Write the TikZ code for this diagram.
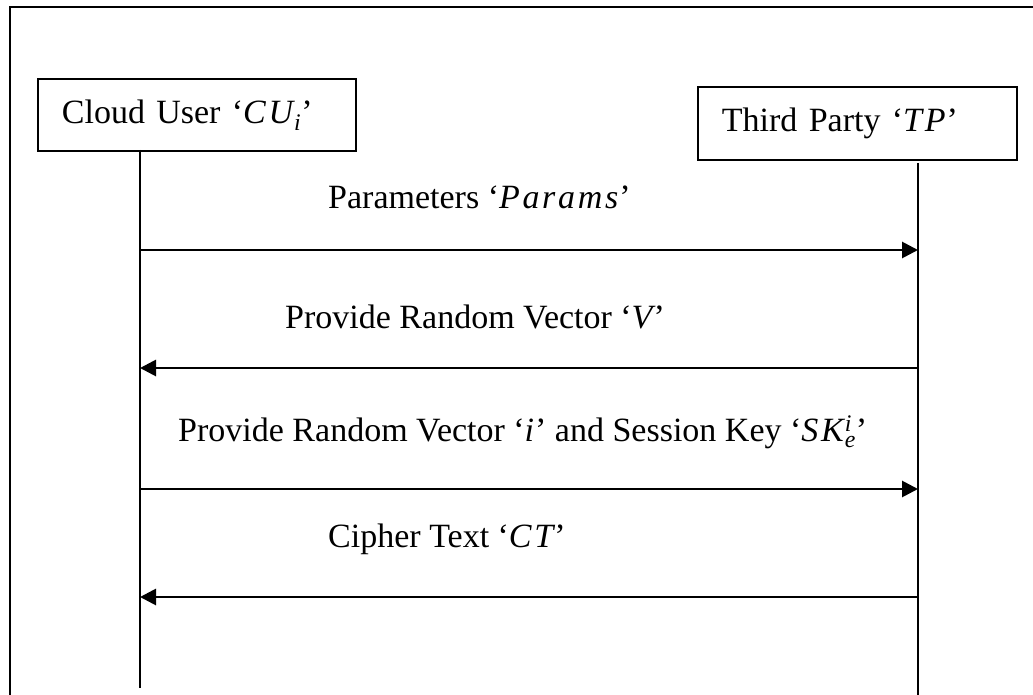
\documentclass[tikz,border=0pt]{standalone}
\usepackage{fontspec}
\usepackage{amsmath}
\setmainfont{Liberation Serif}
\usetikzlibrary{arrows.meta}
\newcommand{\mi}[1]{{\itshape\addfontfeature{LetterSpace=8}#1\kern1pt}}
\begin{document}
\begin{tikzpicture}[x=1pt,y=-1pt,
  every node/.style={font=\fontsize{34}{40}\selectfont},
  actor/.style={draw, line width=1.8pt, anchor=north west, align=left,
    inner xsep=24pt, inner ysep=0pt},
  life/.style={line width=1.8pt},
  msg/.style={line width=2.8pt, -{Triangle[length=16pt,width=16pt]}},
  lbl/.style={anchor=base west, inner sep=0pt}]
\useasboundingbox (0,0) rectangle (1033,695);
\draw[line width=1.8pt] (10,700) -- (10,7) -- (1040,7);
% actors
\node[actor, text width=270pt, minimum height=72pt] (cu) at (37,78) {Cloud User ‘\mi{CU}$_{\text{\itshape i}}$’};
\node[actor, text width=271pt, minimum height=73pt] (tp) at (697,86) {Third Party ‘\mi{TP}’};
% lifelines
\coordinate (cutop) at (140,150);
\coordinate (cubot) at (140,688);
\coordinate (tptop) at (918,163);
\coordinate (tpbot) at (918,700);
\draw[life] (cutop) -- (cubot);
\draw[life] (tptop) -- (tpbot);
% message points
\coordinate (c1) at (140,250); \coordinate (t1) at (918,250);
\coordinate (c2) at (140,368); \coordinate (t2) at (918,368);
\coordinate (c3) at (140,489); \coordinate (t3) at (918,489);
\coordinate (c4) at (140,597); \coordinate (t4) at (918,597);
\draw[msg] (c1) -- (t1);
\draw[msg] (t2) -- (c2);
\draw[msg] (c3) -- (t3);
\draw[msg] (t4) -- (c4);
% labels
\node[lbl] (l1) at (328,209) {Parameters ‘\mi{Params}’};
\node[lbl] (l2) at (285,328) {Provide Random Vector ‘\mi{V}’};
\node[lbl] (l3) at (178,441) {Provide Random Vector ‘\mi{i}’ and Session Key ‘\mi{SK}$^{\text{\itshape i}}_{\text{\itshape e}}$’};
\node[lbl] (l4) at (328,547) {Cipher Text ‘\mi{CT}’};
\end{tikzpicture}
\end{document}
